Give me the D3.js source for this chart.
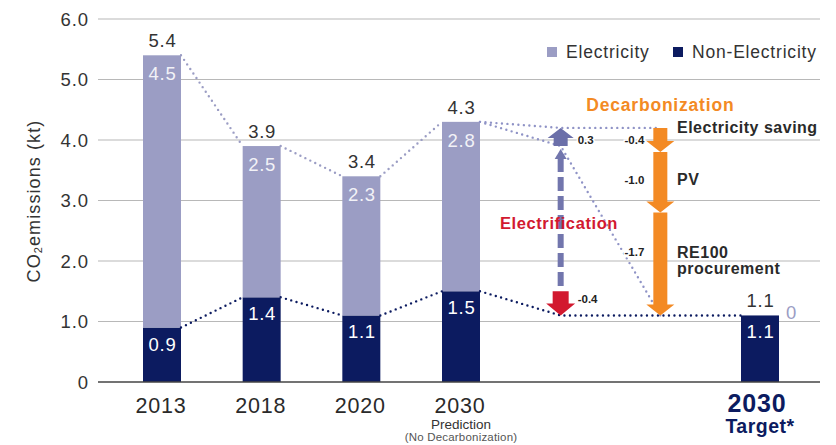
<!DOCTYPE html>
<html><head><meta charset="utf-8">
<script src="https://cdn.jsdelivr.net/npm/d3@7"></script>
<style>body{margin:0;background:#fff}svg{display:block;font-family:"Liberation Sans",Arial,Helvetica,sans-serif}</style>
</head><body><svg id="c" width="836" height="445"></svg>
<script>
// ---- data ----
const categories = ["2013", "2018", "2020", "2030", "2030 Target"];
const electricity = [4.5, 2.5, 2.3, 2.8, 0];
const nonElectricity = [0.9, 1.4, 1.1, 1.5, 1.1];
const yTicks = [0, 1, 2, 3, 4, 5, 6];
const yTickLabels = ["0", "1.0", "2.0", "3.0", "4.0", "5.0", "6.0"];
const electrificationDelta = { electricity: 0.3, nonElectricity: -0.4 };
const decarbSteps = ["Electricity saving", "PV", "RE100 procurement"];
const decarbValues = [-0.4, -1.0, -1.7];
const slots = ["2013", "2018", "2020", "2030", "elec", "decarb", "2030 Target"];

// ---- colors ----
const cElec = "#9b9dc4", cNon = "#0c1b60", cOrange = "#f38a24", cRed = "#d2192f", cPurple = "#6b6fa9";
const svg = d3.select("#c");
const x = d3.scalePoint().domain(slots).range([162, 760]);
const y = d3.scaleLinear().domain([0, 6]).range([382, 19]);
const bw = 38;

// grid
svg.append("g").selectAll("line").data(yTicks.filter(d => d > 0)).join("line")
  .attr("x1", 98).attr("x2", 820).attr("y1", d => y(d)).attr("y2", d => y(d))
  .attr("stroke", "#b8b8b8").attr("stroke-width", 1.2);
svg.append("g").selectAll("text").data(yTicks).join("text")
  .attr("x", 89).attr("y", d => y(d) + 6.5).attr("text-anchor", "end")
  .attr("font-size", 18.5).attr("letter-spacing", 0.9).attr("fill", "#333").text((d, i) => yTickLabels[i]);

// y label
const yl = svg.append("text").attr("transform", "translate(40,201) rotate(-90)")
  .attr("text-anchor", "middle").attr("font-size", 18).attr("letter-spacing", 1.1).attr("fill", "#333");
yl.append("tspan").text("CO");
yl.append("tspan").attr("font-size", 11).attr("dy", 2).text("2");
yl.append("tspan").attr("dy", -2).text("emissions (kt)");

// data rows
const rows = categories.map((c, i) => ({ c, e: electricity[i], n: nonElectricity[i], t: +(electricity[i] + nonElectricity[i]).toFixed(1) }));
const bars = svg.append("g");
bars.selectAll(".n").data(rows).join("rect").attr("class", "n")
  .attr("x", d => x(d.c) - bw / 2).attr("width", bw)
  .attr("y", d => y(d.n)).attr("height", d => y(0) - y(d.n)).attr("fill", cNon);
bars.selectAll(".e").data(rows.filter(d => d.e > 0)).join("rect").attr("class", "e")
  .attr("x", d => x(d.c) - bw / 2).attr("width", bw)
  .attr("y", d => y(d.t)).attr("height", d => y(d.n) - y(d.t)).attr("fill", cElec);

// axis baseline
svg.append("line").attr("x1", 98).attr("x2", 820).attr("y1", y(0)).attr("y2", y(0))
  .attr("stroke", "#444").attr("stroke-width", 1.5);

// dotted connectors
const line = d3.line().x(d => d[0]).y(d => d[1]);
function dotted(pts, col) {
  svg.append("path").attr("d", line(pts)).attr("fill", "none").attr("stroke", col)
    .attr("stroke-width", 2.4).attr("stroke-linecap", "round").attr("stroke-dasharray", "0,5.5");
}
for (let i = 0; i < 3; i++) {
  dotted([[x(rows[i].c) + bw / 2, y(rows[i].t)], [x(rows[i + 1].c) - bw / 2, y(rows[i + 1].t)]], cElec);
  dotted([[x(rows[i].c) + bw / 2, y(rows[i].n)], [x(rows[i + 1].c) - bw / 2, y(rows[i + 1].n)]], cNon);
}
const p = rows[3];
const afterNon = +(p.n + electrificationDelta.nonElectricity).toFixed(1);       // 1.1
const mid = +(p.t + electrificationDelta.nonElectricity).toFixed(1);           // 3.9
const afterElec = +(mid + electrificationDelta.electricity).toFixed(1);        // 4.2
const xe = x("elec"), xd = x("decarb"), xt = x("2030 Target");
dotted([[x(p.c) + bw / 2, y(p.t)], [xe, y(afterElec)], [xd, y(afterElec)]], "#8f93c6");
dotted([[x(p.c) + bw / 2, y(p.t)], [xe, y(mid)], [xd, y(afterNon)]], "#8f93c6");
dotted([[x(p.c) + bw / 2, y(p.n)], [xe, y(afterNon)], [xt - bw / 2, y(afterNon)]], cNon);

// block arrow
function blockArrow(xc, y0, y1, sw, hw, hh, col) {
  const dir = y1 > y0 ? 1 : -1, yb = y1 - dir * hh;
  const pts = [[xc - sw / 2, y0], [xc + sw / 2, y0], [xc + sw / 2, yb], [xc + hw / 2, yb], [xc, y1], [xc - hw / 2, yb], [xc - sw / 2, yb]];
  svg.append("path").attr("d", line(pts) + "Z").attr("fill", col);
}
// electrification
svg.append("line").attr("x1", xe).attr("x2", xe).attr("y1", y(mid) + 12).attr("y2", y(p.n) - 4)
  .attr("stroke", "#7276ad").attr("stroke-width", 6).attr("stroke-dasharray", "14,5");
svg.append("path").attr("d", line([[xe - 6, y(mid) + 13], [xe + 6, y(mid) + 13], [xe, y(mid) + 3]]) + "Z").attr("fill", "#7276ad");
blockArrow(xe, y(mid), y(afterElec), 14, 26, 10, cPurple);
blockArrow(xe, y(p.n), y(afterNon), 16, 29, 12, cRed);

// decarbonization
let level = afterElec;
const stepLevels = decarbValues.map(v => { const s = level; level = +(level + v).toFixed(1); return [s, level]; });
stepLevels.forEach(([a, b]) => blockArrow(xd, y(a), y(b), 14, 28, 11, cOrange));

// small value labels
function small(txt, xx, yy, anchor) {
  svg.append("text").attr("x", xx).attr("y", yy).attr("text-anchor", anchor).attr("font-size", 11.5)
    .attr("font-weight", "bold").attr("fill", "#222").attr("stroke", "#fff").attr("stroke-width", 3)
    .attr("paint-order", "stroke").text(txt);
}
small(electrificationDelta.electricity.toFixed(1), xe + 17, y(4.0) + 4, "start");
small(electrificationDelta.nonElectricity.toFixed(1), xe + 17, y(p.n) + 12, "start");
stepLevels.forEach(([a, b], i) => {
  const yy = i === 0 ? y(4.0) + 4 : i === 1 ? (y(a) + y(b)) / 2 + 2 : y(2.15) + 4;
  small(decarbValues[i].toFixed(1), xd - 16, yy, "end");
});
// step names
const lab = svg.append("g").attr("font-size", 16).attr("letter-spacing", 0.5).attr("font-weight", "bold").attr("fill", "#2a2a2a");
lab.append("text").attr("x", 677).attr("y", 133).text(decarbSteps[0]);
lab.append("text").attr("x", 677).attr("y", 185).text(decarbSteps[1]);
lab.append("text").attr("x", 677).attr("y", 258).text(decarbSteps[2].split(" ")[0]);
lab.append("text").attr("x", 677).attr("y", 274).text(decarbSteps[2].split(" ")[1]);
svg.append("text").attr("x", xd).attr("y", 111).attr("text-anchor", "middle").attr("font-size", 17.5)
  .attr("letter-spacing", 0.8).attr("font-weight", "bold").attr("fill", cOrange).text("Decarbonization");
svg.append("text").attr("x", 559).attr("y", 229).attr("text-anchor", "middle").attr("font-size", 16.5)
  .attr("letter-spacing", 0.6).attr("font-weight", "bold").attr("fill", cRed).text("Electrification");

// bar labels
svg.append("g").selectAll("text").data(rows).join("text")
  .attr("x", d => x(d.c) + 0.5).attr("y", d => y(d.t) - 8).attr("text-anchor", "middle")
  .attr("font-size", 18.5).attr("letter-spacing", 0.7).attr("fill", "#333").text(d => d.t.toFixed(1));
svg.append("g").selectAll("text").data(rows.filter(d => d.e > 0)).join("text")
  .attr("x", d => x(d.c) + 0.5).attr("y", d => y(d.t) + 25).attr("text-anchor", "middle")
  .attr("font-size", 18.5).attr("letter-spacing", 0.7).attr("fill", "#f2f2f7").text(d => d.e.toFixed(1));
svg.append("g").selectAll("text").data(rows).join("text")
  .attr("x", d => x(d.c) + 0.5).attr("y", d => y(d.n) + 23).attr("text-anchor", "middle")
  .attr("font-size", 18.5).attr("letter-spacing", 0.7).attr("fill", "#fff").text(d => d.n.toFixed(1));
svg.append("text").attr("x", xt + bw / 2 + 7).attr("y", y(afterNon) + 4).attr("font-size", 18.5)
  .attr("fill", cElec).text(String(electricity[4]));

// x labels
svg.append("g").selectAll("text").data(categories.slice(0, 4)).join("text")
  .attr("x", d => x(d) - 1).attr("y", 413).attr("text-anchor", "middle").attr("font-size", 21.5)
  .attr("letter-spacing", 0.8).attr("fill", "#2a2a2a").text(d => d);
svg.append("text").attr("x", x("2030")).attr("y", 429).attr("text-anchor", "middle").attr("font-size", 13.5).attr("fill", "#333").text("Prediction");
svg.append("text").attr("x", x("2030")).attr("y", 441).attr("text-anchor", "middle").attr("font-size", 11.5).attr("letter-spacing", 0.2).attr("fill", "#555").text("(No Decarbonization)");
svg.append("text").attr("x", xt - 3).attr("y", 412).attr("text-anchor", "middle").attr("font-size", 25).attr("letter-spacing", 0.8).attr("font-weight", "bold").attr("fill", cNon).text("2030");
svg.append("text").attr("x", xt).attr("y", 433).attr("text-anchor", "middle").attr("font-size", 19.5).attr("letter-spacing", 0.5).attr("font-weight", "bold").attr("fill", cNon).text("Target*");

// legend
const leg = [["Electricity", cElec, 547], ["Non-Electricity", cNon, 673]];
leg.forEach(([t, c, lx]) => {
  svg.append("rect").attr("x", lx).attr("y", 47).attr("width", 10).attr("height", 10).attr("fill", c);
  svg.append("text").attr("x", lx + 19).attr("y", 58).attr("font-size", 17.5).attr("letter-spacing", 0.8).attr("fill", "#333").text(t);
});
</script></body></html>
